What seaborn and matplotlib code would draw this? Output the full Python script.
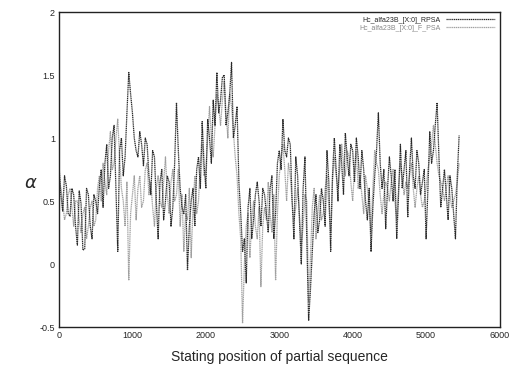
import matplotlib
matplotlib.use("Agg")
import matplotlib.pyplot as plt
import seaborn as sns
import numpy as np
import pandas as pd

# alpha traces: values on the 50-grid (0..5450)
# and the half-step values in between (25..5425)
grid_pos = list(range(0, 5500, 50))
half_pos = list(range(25, 5450, 50))

dark_grid = [
    0.78, 0.42, 0.62, 0.38, 0.55, 0.15, 0.48, 0.12, 0.55, 0.20,
    0.50, 0.62, 0.45, 0.95, 0.70, 1.10, 0.10, 1.00, 0.85, 1.52,
    1.20, 0.90, 1.05, 0.78, 0.95, 0.55, 0.85, 0.20, 0.75, 0.50,
    0.65, 0.45, 1.28, 0.60, 0.40, -0.05, 0.50, 0.30, 0.85, 1.13,
    0.60, 1.00, 1.30, 1.52, 1.30, 1.50, 1.20, 1.60, 1.10, 0.65,
    0.10, -0.15, 0.60, 0.35, 0.65, 0.30, 0.55, 0.25, 0.70, 0.40,
    0.90, 1.15, 0.85, 0.95, 0.20, 0.70, 0.00, 0.85, -0.45, 0.10,
    0.55, 0.35, 0.50, 0.90, 0.10, 1.00, 0.50, 0.80, 1.04, 0.70,
    0.90, 1.00, 0.60, 0.75, 0.35, 0.10, 0.70, 1.20, 0.60, 0.28,
    0.85, 0.50, 0.20, 0.95, 0.75, 0.37, 1.00, 0.60, 0.80, 0.65,
    0.20, 1.05, 0.90, 1.28, 0.45, 0.75, 0.35, 0.60, 0.20, 1.02,
]
dark_half = [
    0.55, 0.70, 0.40, 0.60, 0.30, 0.58, 0.11, 0.60, 0.30, 0.55,
    0.40, 0.75, 0.80, 0.60, 1.00, 0.60, 0.90, 0.70, 1.20, 1.35,
    1.00, 0.85, 0.95, 1.00, 0.70, 0.90, 0.50, 0.65, 0.35, 0.70,
    0.30, 0.80, 0.90, 0.45, 0.55, 0.30, 0.60, 0.75, 0.60, 0.80,
    1.15, 0.80, 1.10, 1.20, 1.48, 1.10, 1.35, 1.00, 1.25, 0.40,
    0.20, 0.45, 0.20, 0.55, 0.50, 0.60, 0.40, 0.60, 0.20, 0.80,
    0.75, 0.90, 1.00, 0.50, 0.85, 0.35, 0.60, 0.20, -0.20, 0.40,
    0.25, 0.60, 0.30, 0.65, 0.70, 0.75, 0.95, 0.55, 0.85, 0.95,
    0.65, 0.85, 0.90, 0.50, 0.60, 0.45, 0.90, 0.80, 0.75, 0.60,
    0.70, 0.75, 0.55, 0.60, 0.90, 0.75, 0.70, 0.90, 0.55, 0.75,
    0.60, 0.80, 1.10, 0.85, 0.60, 0.55, 0.70, 0.40, 0.70,
]

light_grid = [
    0.70, 0.50, 0.40, 0.60, 0.30, 0.50, 0.25, 0.45, 0.30, 0.50,
    0.35, 0.70, 0.80, 0.55, 1.05, 0.80, 1.15, 0.60, 0.30, -0.13,
    0.55, 0.35, 0.70, 0.50, 0.80, 0.65, 0.30, 0.70, 0.45, 0.85,
    0.40, 0.75, 0.55, 0.30, 0.10, 0.35, 0.05, 0.70, 0.50, 0.95,
    0.75, 1.25, 0.85, 1.35, 1.10, 1.45, 1.00, 1.25, 0.85, 0.40,
    -0.47, 0.30, 0.05, 0.50, 0.20, -0.18, 0.45, 0.65, 0.25, -0.13,
    0.70, 0.95, 0.50, 0.70, 0.35, 0.60, 0.15, 0.55, -0.30, 0.45,
    0.20, 0.55, 0.40, 0.70, 0.25, 0.85, 0.60, 0.95, 0.70, 0.85,
    0.50, 0.90, 0.70, 0.40, 0.60, 0.25, 0.90, 0.75, 0.40, 0.65,
    0.50, 0.75, 0.35, 0.80, 0.55, 0.60, 0.80, 0.45, 0.70, 0.45,
    0.60, 0.85, 1.10, 0.80, 0.65, 0.50, 0.70, 0.45, 0.55, 0.80,
]
light_half = [
    0.60, 0.35, 0.55, 0.45, 0.50, 0.35, 0.40, 0.20, 0.45, 0.30,
    0.60, 0.50, 0.65, 0.90, 0.75, 1.00, 0.85, 0.50, 0.65, 0.40,
    0.70, 0.60, 0.45, 0.75, 0.55, 0.45, 0.60, 0.50, 0.65, 0.55,
    0.65, 0.50, 0.75, 0.55, 0.40, 0.60, 0.45, 0.40, 0.80, 0.70,
    1.00, 1.00, 1.10, 1.25, 1.30, 1.20, 1.35, 1.05, 0.70, 0.20,
    0.00, 0.40, 0.35, 0.30, 0.45, 0.30, 0.35, 0.40, 0.55, 0.40,
    0.85, 0.75, 0.80, 0.50, 0.45, 0.40, 0.30, 0.50, 0.05, 0.60,
    0.40, 0.35, 0.60, 0.45, 0.65, 0.70, 0.75, 0.80, 0.90, 0.65,
    0.75, 0.60, 0.55, 0.70, 0.45, 0.60, 0.80, 0.55, 0.55, 0.60,
    0.65, 0.50, 0.60, 0.70, 0.65, 0.70, 0.60, 0.60, 0.55, 0.50,
    0.75, 0.95, 0.95, 0.70, 0.60, 0.60, 0.55, 0.50, 0.65,
]

series_names = ["Hc_alfa23B_[X:0]_RPSA", "Hc_alfa23B_[X:0]_F_PSA"]
series_colors = ["#2a2a2a", "#a0a0a0"]


def merge(grid_vals, half_vals):
    pts = sorted(zip(grid_pos + half_pos, grid_vals + half_vals))
    return [p for p, _ in pts], [v for _, v in pts]


frames = []
for name, g, h in [(series_names[0], dark_grid, dark_half),
                   (series_names[1], light_grid, light_half)]:
    pos, vals = merge(g, h)
    frames.append(pd.DataFrame({"pos": pos, "alpha": vals, "series": name}))
df = pd.concat(frames, ignore_index=True)

sns.set_style("white")
plt.rcParams["font.family"] = ["Liberation Sans", "DejaVu Sans"]

fig = plt.figure(figsize=(5.11, 3.81), dpi=100)
ax = fig.add_axes([0.1155, 0.1417, 0.862, 0.8268])

# light series first so the dark one sits on top
for name, color in zip(series_names[::-1], series_colors[::-1]):
    sns.lineplot(data=df[df["series"] == name], x="pos", y="alpha",
                 color=color, linewidth=0.9, linestyle=(0, (1, 0.5)),
                 label=name, ax=ax, estimator=None, sort=False)

ax.set_xlim(0, 6000)
ax.set_ylim(-0.5, 2)
ax.set_xticks(np.arange(0, 6001, 1000))
ax.set_yticks([-0.5, 0, 0.5, 1, 1.5, 2])
ax.set_yticklabels(["-0.5", "0", "0.5", "1", "1.5", "2"])
ax.tick_params(direction="in", length=3, width=0.8, labelsize=6.5, pad=3)

for sp in ax.spines.values():
    sp.set_color("#222222")
    sp.set_linewidth(1.0)

ax.set_xlabel("Stating position of partial sequence", fontsize=10, labelpad=7)
ax.set_ylabel(r"$\alpha$", fontsize=13, rotation=0)
ax.yaxis.set_label_coords(-0.065, 0.43)

handles, labels = ax.get_legend_handles_labels()
leg = ax.legend(handles[::-1], labels[::-1], loc="upper right", frameon=False,
                fontsize=5, markerfirst=False, handlelength=7, labelspacing=0.1,
                borderaxespad=0.3)
leg.get_texts()[1].set_color("#888888")

fig.savefig("out.png", dpi=100)
